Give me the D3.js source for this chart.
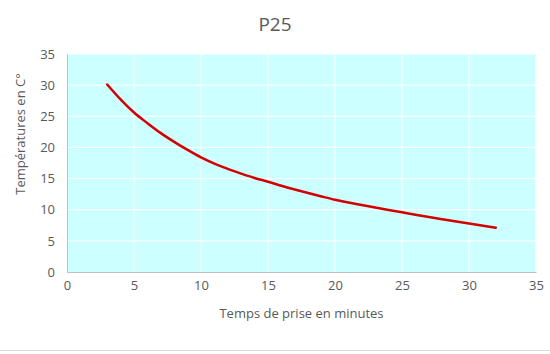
<!DOCTYPE html>
<html>
<head>
<meta charset="utf-8">
<script src="https://cdn.jsdelivr.net/npm/d3@7"></script>
<style>
  body { margin: 0; background: #fff; }
  text { font-family: "Open Sans", "Noto Sans", sans-serif; }
</style>
</head>
<body>
<div id="chart"></div>
<script>
// temps de prise (minutes) et températures
const minutes = [3, 4, 5, 6, 7, 8, 9, 10, 11, 12, 13, 14, 15, 16, 17, 18, 19, 20, 22, 24, 25, 26, 28, 30, 32];
const temperatures = [30.1, 27.7, 25.6, 23.9, 22.3, 20.9, 19.6, 18.4, 17.4, 16.55, 15.8, 15.1, 14.5, 13.85, 13.25, 12.68, 12.13, 11.6, 10.75, 9.95, 9.58, 9.2, 8.47, 7.78, 7.12];
const xTicks = [0, 5, 10, 15, 20, 25, 30, 35];
const yTicks = [0, 5, 10, 15, 20, 25, 30, 35];

const data = minutes.map((m, i) => ({ x: m, y: temperatures[i] }));

const width = 550, height = 354;
const plotLeft = 67, plotRight = 536, plotTop = 54, plotBottom = 272;

const svg = d3.select("#chart")
    .append("svg")
    .attr("width", width)
    .attr("height", height);

const xScale = d3.scaleLinear().domain([0, 35]).range([plotLeft, plotRight]);
const yScale = d3.scaleLinear().domain([0, 35]).range([plotBottom, plotTop]);

// fond de la zone de tracé
svg.append("rect")
    .attr("x", plotLeft)
    .attr("y", plotTop)
    .attr("width", plotRight - plotLeft)
    .attr("height", plotBottom - plotTop)
    .attr("fill", "#ccffff");

// quadrillage
svg.append("g")
    .selectAll("line")
    .data(xTicks.slice(1))
    .enter()
    .append("line")
    .attr("x1", d => xScale(d))
    .attr("x2", d => xScale(d))
    .attr("y1", plotTop)
    .attr("y2", plotBottom)
    .attr("stroke", "#fff")
    .attr("stroke-width", 1);

svg.append("g")
    .selectAll("line")
    .data(yTicks.slice(1))
    .enter()
    .append("line")
    .attr("x1", plotLeft)
    .attr("x2", plotRight)
    .attr("y1", d => yScale(d))
    .attr("y2", d => yScale(d))
    .attr("stroke", "#fff")
    .attr("stroke-width", 1);

// axes
const xAxis = svg.append("g")
    .attr("transform", `translate(0, ${plotBottom})`)
    .call(d3.axisBottom(xScale).tickValues(xTicks).tickSize(0).tickPadding(9));

const yAxis = svg.append("g")
    .attr("transform", `translate(${plotLeft}, 0)`)
    .call(d3.axisLeft(yScale).tickValues(yTicks).tickSize(0).tickPadding(12));

[xAxis, yAxis].forEach(g => {
  g.select(".domain").attr("stroke", "#bfbfbf").attr("stroke-width", 1);
  g.selectAll("text")
      .attr("fill", "#595959")
      .style("font-size", "13px");
});

// courbe
svg.append("path")
    .datum(data)
    .attr("fill", "none")
    .attr("stroke", "#d40000")
    .attr("stroke-width", 2.5)
    .attr("stroke-linecap", "round")
    .attr("d", d3.line()
        .x(d => xScale(d.x))
        .y(d => yScale(d.y))
        .curve(d3.curveMonotoneX));

// titres
svg.append("text")
    .attr("x", 275)
    .attr("y", 31)
    .attr("text-anchor", "middle")
    .attr("fill", "#595959")
    .style("font-size", "19px")
    .text("P25");

svg.append("text")
    .attr("x", (plotLeft + plotRight) / 2)
    .attr("y", 318)
    .attr("text-anchor", "middle")
    .attr("fill", "#595959")
    .style("font-size", "13px")
    .text("Temps de prise en minutes");

svg.append("text")
    .attr("transform", "translate(25, 134) rotate(-90)")
    .attr("text-anchor", "middle")
    .attr("fill", "#595959")
    .style("font-size", "13px")
    .text("Températures en C°");

// bordure basse de la zone graphique
svg.append("line")
    .attr("x1", 0)
    .attr("x2", width)
    .attr("y1", 350.5)
    .attr("y2", 350.5)
    .attr("stroke", "#d9d9d9");
</script>
</body>
</html>
